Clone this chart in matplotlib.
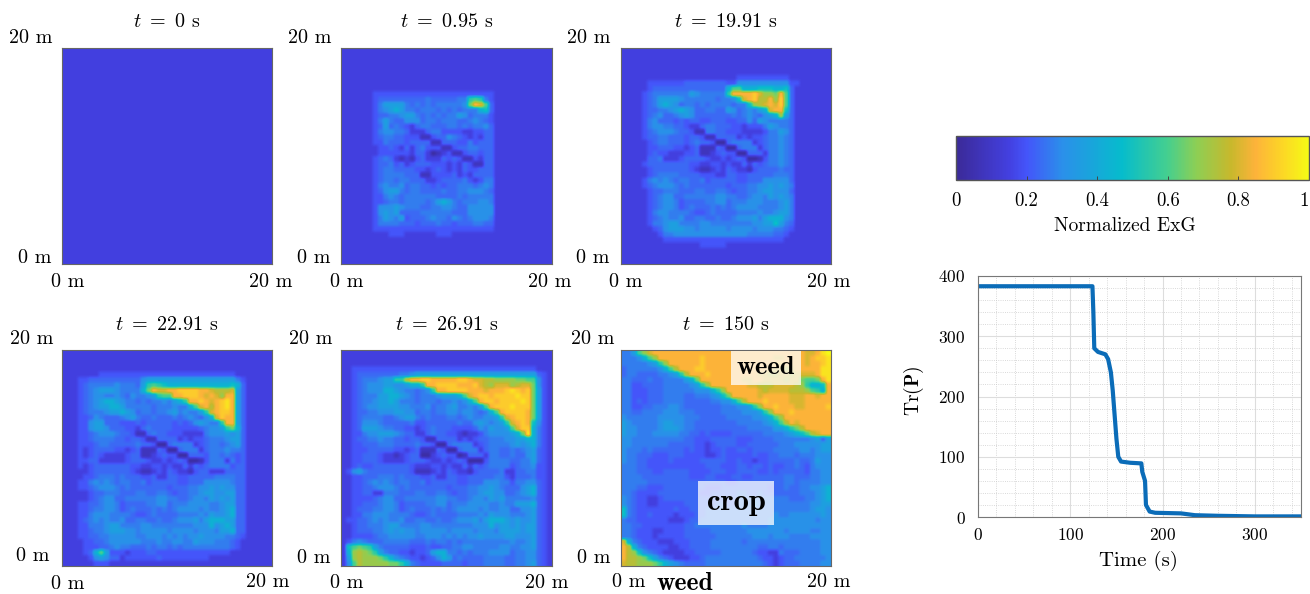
#!/usr/bin/env python3
# -*- coding: utf-8 -*-
"""ExG map snapshots, colorbar and Tr(P) over time"""

import numpy as np
import matplotlib
matplotlib.use('Agg')
import matplotlib.pyplot as plt
from matplotlib.colors import LinearSegmentedColormap
from matplotlib.ticker import MultipleLocator

plt.rcParams['font.family'] = 'cmr10'
plt.rcParams['mathtext.fontset'] = 'cm'
plt.rcParams['axes.formatter.use_mathtext'] = True

W, H = 1310, 594

# values, one char per cell, LEVELS gives the value of a char
LEVELS = {'1': 0.03, '2': 0.08, '3': 0.15, '4': 0.20, '5': 0.235, '6': 0.27, '7': 0.31,
          '8': 0.36, '9': 0.43, 'a': 0.49, 'b': 0.55, 'c': 0.60, 'd': 0.65, 'e': 0.70,
          'f': 0.75, 'g': 0.80, 'h': 0.85, 'i': 0.90, 'j': 0.95, 'k': 1.0}
BLANK = '3333333333 3333333333 3333333333 3333333333'

MAP_T0 = [BLANK] * 40

MAP_T095 = [BLANK] * 8 + [
    '3333334444 4444444444 4444444443 3333333333',
    '3333334555 5555556555 5566bcb643 3333333333',
    '3333334688 8865656566 6667dhgc53 3333333333',
    '3333334678 9866566656 5656669a53 3333333333',
    '3333334556 6788656565 6687566643 3333333333',
    '3333334686 5577756656 6655676543 3333333333',
    '3333334585 6543566555 6656566753 3333333333',
    '3333334677 6653335664 4443344553 3333333333',
    '3333334566 5544422455 7654343553 3333333333',
    '3333334465 5545555225 5544645553 3333333333',
    '3333333445 4353564442 2455665553 3333333333',
    '3333333444 4443553123 4224554553 3333333333',
    '3333334565 3232453335 4542243553 3333333333',
    '3333334556 4534555444 3435422553 3333333333',
    '3333334566 5555443454 3435445553 3333333333',
    '3333334566 6655522444 4534355553 3333333333',
    '3333334566 5665553345 5556434663 3333333333',
    '3333334676 6756655454 5566656763 3333333333',
    '3333334578 8656655556 5566777653 3333333333',
    '3333334467 6566666655 5565666663 3333333333',
    '3333334456 6566665689 8656667763 3333333333',
    '3333334777 8766655667 7655777773 3333333333',
    '3333334787 8555566666 6555777773 3333333333',
    '3333334687 6845556766 5765677763 3333333333',
    '3333334666 6555455565 5455566553 3333333333',
    '3333334444 4444444444 4444444443 3333333333',
    '3333333334 4433333344 4333333333 3333333333',
] + [BLANK] * 5

MAP_T1991 = [BLANK] * 5 + [
    '3333333333 3333333333 3344444444 4433333333',
    '3333344444 4455555555 4477777777 7744333333',
    '3333345555 5555555555 9cc999aaa9 9a53333333',
    '3333456666 6668766666 bhhhhigeed hc53333333',
    '3333456888 8766666656 67aghiffhe ic53333333',
    '3333456898 7566565666 6566aefghg ic53333333',
    '3333455667 8987556655 87567689gh ha53333333',
    '3333456755 6787555555 5656765789 e853333333',
    '3333467555 4545544555 4455758766 6653333333',
    '3333467766 5543356655 5443444687 6653333333',
    '3333456777 6554226655 4443333466 8753333333',
    '3333455665 5545542255 5534344566 7653333333',
    '3333345665 5545655411 5666634566 7653333333',
    '3333344555 4434522254 1156663566 7653333333',
    '3333345443 3344522345 4411555366 7653333333',
    '3333355633 3455554334 3454112466 7653333333',
    '3333455555 5554433443 4335354566 7653333333',
    '3333345555 5554322343 5433245555 6553333333',
    '3333345666 6555544433 5544555556 6653333333',
    '3333467676 5665564555 5544555777 7753333333',
    '3333456777 6565555555 4555667787 8763333333',
    '3333345566 6555665566 5455667887 7753333333',
    '3333345677 5566666677 6655677687 8763333333',
    '3333345677 6455556677 5666777666 7863333333',
    '3333345677 6456555656 5677776666 7863333333',
    '3333346776 6665445655 5566667667 8863333333',
    '3333345676 6755665565 5677786899 9763333333',
    '3333346678 8666677666 666667788a 8653333333',
    '3333334578 8877677777 6777767776 6543333333',
    '3333333466 7777777777 7777666665 5433333333',
    '3333333344 4444444444 4444444444 4333333333',
    '3333333333 3333344444 3333333333 3333333333',
] + [BLANK] * 3

MAP_T2291 = [BLANK] * 4 + [
    '3333333444 4444444444 4444444444 4443333333',
    '3334455555 5555578888 8888888888 8886433333',
    '3334566666 766658bcba 9999999999 99a9533333',
    '3334567888 766669dhgg hhiiiihhgf ffg8533333',
    '3334567766 76576678bc chhiiihghg ehh8533333',
    '3334567899 8766565667 689bhhihgh ijh8533333',
    '3334567889 9866666566 67669cghfh ijh8533333',
    '3334566678 8987566566 7867668bgh iih8533333',
    '3334457655 5678655655 565676579g ihh8533333',
    '3334478855 5444545555 5454578766 bhh8533333',
    '3334478875 5544356555 5444445677 8bd9533333',
    '3334456777 6554225655 4443333677 7878533333',
    '3334456666 5545542255 5534344566 6788533333',
    '3334445665 5555655411 5666634566 5678533333',
    '3334345555 4434522254 1156663566 6766533333',
    '3334345433 3345522345 4411555466 5654533333',
    '3334455333 3345554334 3454112466 6364533333',
    '3334345555 5554433443 4335354566 6645533333',
    '3333345555 5554322343 5433245533 3555533333',
    '3333445666 5655544533 5544555556 6665533333',
    '3334467676 5665564555 5544555777 7765533333',
    '3334456777 6565555555 4555667787 8775533333',
    '3333345566 6555665566 5455667887 7885533333',
    '3333345677 5566666677 6655677687 8785533333',
    '3334455677 6455556677 5666777766 7885533333',
    '3334456677 6456555656 5677776766 7895533333',
    '3334467776 6665445655 5566667687 7895533333',
    '3334567676 6755665565 5677786899 9885533333',
    '3334466678 8666677666 6666677797 8985533333',
    '3334456678 8877677777 6777767776 8895533333',
    '3334455667 7777667776 7676778777 7665433333',
    '3333445567 7777766676 6776687776 6654333333',
    '3333444556 7665556566 5656666666 6654333333',
    '3333459c84 4434445544 4444444444 4433333333',
    '3333347875 5344444454 4444444433 3333333333',
    '3333334443 3333333333 3333333333 3333333333',
]

MAP_T2691 = [BLANK] * 3 + [
    '3344444444 4444444444 4444444444 4444444333',
    '3345555555 5667888888 8888888888 8888888543',
    '3345666788 bbfhhiihhh hhiihggffe eeeddcc743',
    '3345677788 77899bhhii iihhhigfeg ggefggd743',
    '3345677799 8766567bhh iiiihhhghh hijihid843',
    '3345666889 9876566678 889cghiihi iiijiid843',
    '3345667889 8666566656 67679chiih iiiijid843',
    '3345677888 8776667566 7866768chi iijiiid843',
    '3345566777 8877566566 776776569c hiiiihd843',
    '3345666655 6788656555 6656766778 bghiihd843',
    '3345777655 5556445555 5565578767 8bghiha743',
    '3345888766 5544345655 5444457687 78cgii9643',
    '3344677888 7655335655 4432334677 7789dj9643',
    '3345566766 5545542255 5534345566 6778899643',
    '3344555666 5555655411 5666634566 6678789643',
    '3344455555 4434522254 1156663566 5565678543',
    '3344555433 2345511345 4412555366 5565578543',
    '3344555433 3345554334 3454111466 6655668543',
    '3345445555 5554333443 4335354566 6645667443',
    '3478655555 5554222343 5433245555 6335566443',
    '3344555666 5655544533 5544555556 6435556443',
    '3344567676 5665564555 5544555777 6646677543',
    '3344556777 6565555555 4555667787 6555789543',
    '3344553366 6555665566 5455667887 7556789543',
    '3344445677 5566666677 6655677687 8666667543',
    '3344555677 6455556677 5666777766 7668889543',
    '3345556677 6456555656 5677776766 7755778543',
    '3344667776 6665445655 5566667687 7766678543',
    '3445567676 6755665565 5677786899 9878778543',
    '3345566678 8666677666 6666677797 8878788543',
    '3345556678 7877677777 6777767776 8888788543',
    '3344445667 7777667776 7676778777 7887778543',
    '3467655566 6665556566 5656666666 6676678543',
    '3acdcb8655 5554445445 5667766666 7766778543',
    '39efedb865 5443445899 6656566677 7756677543',
    '38efeeedb9 7654434579 8565555666 6556677543',
    '37cfeeeeed db96544445 5554555666 6556678543',
]

MAP_T150 = [
    '668ceghhhh hhhhhhhhhh hhhhhhhhhh hhhhhgghjk',
    '66679cehhh hhhhhihhhh hhhhhhhhhg ghhhhghiij',
    '6666678beh hhhhhihhhh hhhhhhhhhi ihhhhghhij',
    '566666679c fhhhiihhhh hhhhhhhhgg gfghhhhhjj',
    '5665555667 8bfhhhihhh hhhhhhggff ggfgggghjj',
    '6655565566 6689dhhhhh hhhgghhggg gfggdccdhj',
    '6644555566 66678behhh hhhhggfffg gggfeb99ah',
    '6644455566 66667779be hhhhhhgfgg ggfffecb9h',
    '6644455566 665566678a dhhhhhghhh hhggghhghh',
    '6645455566 6655555667 79cfhhhihh hhggghhhhh',
    '6644556667 7655555556 66778behhi hhhgghhhhi',
    '6655666677 7666555556 6667778beh hhihhhhhhh',
    '7666666777 7766655555 666667789c ehhhhhhhhh',
    '8766666788 7766555555 5566666789 cfhghhhhhh',
    '8776666788 8766555555 5555666668 89bdfhhhhh',
    '8776667777 7665545444 4555555666 6789acfghh',
    '7766666666 6655444555 5544455556 6666667858',
    '7766666665 5555443455 5544555555 6667777788',
    '7666565555 5545443445 4455455556 6666776788',
    '7665554445 5544443345 4444454455 6665666777',
    '7665544445 4444455555 4454434455 5556556877',
    '6665544444 4444445554 4455455454 4556546777',
    '6665554455 5554444555 4455554454 5555546677',
    '6666555555 5554445544 4554455555 5665556677',
    '6666655555 5555555555 4455555555 5665666677',
    '6665544455 5555554445 5555555545 5655667789',
    '6654444555 5555544555 5566556555 5555666789',
    '7654433455 5555555555 5566666666 6655566789',
    '7654433444 4455555566 5566676666 6666667788',
    'a654444444 5445556666 6666666666 6666667887',
    'a654454444 3444556666 6666666667 6677777787',
    '6554444443 3345566666 6666666677 7777777677',
    '6655444444 4455666666 6667666677 7777777777',
    '6654443344 4455555666 6666777777 7677776677',
    '6654443444 4455555566 6666677767 7766667777',
    'g965444333 4445555666 6665666666 6666666677',
    'hf96544443 3445555666 6666665566 5666666677',
    'hfea765433 3344555556 6666654433 6555666677',
    'hffeda8654 3334456666 6666665443 4556666667',
    'gffeeedb98 7655556666 6666666543 4555666677',
]

TITLES = [r'$t\ =\ 0$ s', r'$t\ =\ 0.95$ s', r'$t\ =\ 19.91$ s',
          r'$t\ =\ 22.91$ s', r'$t\ =\ 26.91$ s', r'$t\ =\ 150$ s']
MAPS = [MAP_T0, MAP_T095, MAP_T1991, MAP_T2291, MAP_T2691, MAP_T150]

CBAR_TICKS = [0, 0.2, 0.4, 0.6, 0.8, 1]

TIME_S = [0, 124, 125, 126, 130, 138, 141, 144, 146, 148, 150, 152, 155, 165, 177,
          178, 181, 182, 186, 192, 220, 235, 260, 300, 350]
TRACE_P = [383, 383, 340, 280, 274, 270, 262, 240, 210, 170, 130, 100, 92, 90, 89,
           75, 60, 20, 9, 7, 6, 3, 2, 1, 1]

cmap = LinearSegmentedColormap.from_list('exg', [
    (0.0, '#3b2a98'), (0.15, '#4340e0'), (0.2, '#4455fa'), (0.3, '#2b8fea'),
    (0.47, '#06bccc'), (0.6, '#45cf8f'), (0.68, '#8ccf55'), (0.78, '#c8b82c'),
    (0.85, '#fdb33a'), (0.93, '#fcd825'), (1.0, '#f5fb15')])


def decode(rows):
    cells = [[LEVELS[c] for c in r.replace(' ', '')] for r in rows]
    return np.array(cells)


def px_axes(fig, x0, y0, x1, y1):
    return fig.add_axes([x0 / W, 1 - y1 / H, (x1 - x0) / W, (y1 - y0) / H])


def px_text(fig, x, y, s, **kw):
    kw.setdefault('ha', 'center')
    kw.setdefault('va', 'center')
    kw.setdefault('fontsize', 14.5)
    fig.text(x / W, 1 - y / H, s, **kw)


fig = plt.figure(figsize=(W / 100, H / 100), dpi=100)

# panel frames and label centres in pixels
frames = [(62, 48, 272, 264), (341, 48, 552, 264), (621, 48, 831, 264),
          (62, 350, 272, 566), (341, 350, 552, 566), (621, 350, 831, 566)]
title_y = [22, 22, 22, 325, 325, 325]
label_pos = [(31, 38, 35, 258, 68, 282, 271, 282),
             (310, 38, 314, 258, 347, 282, 550, 282),
             (589, 38, 593, 258, 626, 282, 829, 282),
             (32, 339, 33, 556, 68, 584, 268, 582),
             (311, 339, 314, 558, 347, 583, 547, 583),
             (593, 339, 594, 558, 629, 582, 829, 582)]

im = None
for i, rows in enumerate(MAPS):
    x0, y0, x1, y1 = frames[i]
    ax = px_axes(fig, x0, y0, x1, y1)
    im = ax.imshow(decode(rows), cmap=cmap, vmin=0, vmax=1, aspect='auto', interpolation='hermite')
    ax.set_xticks([])
    ax.set_yticks([])
    for s in ax.spines.values():
        s.set_color('#666666')
        s.set_linewidth(0.8)
    px_text(fig, (x0 + x1) / 2, title_y[i], TITLES[i], fontsize=14.5)
    lx, ly, lx0, ly0, bx0, by0, bx1, by1 = label_pos[i]
    px_text(fig, lx, ly, '20 m')
    px_text(fig, lx0, ly0, '0 m')
    px_text(fig, bx0, by0, '0 m')
    px_text(fig, bx1, by1, '20 m')

# weed / crop annotations
px_text(fig, 766, 368, 'weed', family='cmb10', fontsize=19,
        bbox=dict(facecolor='white', alpha=0.75, edgecolor='none', pad=4))
px_text(fig, 736, 503, 'crop', family='cmb10', fontsize=22,
        bbox=dict(facecolor='white', alpha=0.75, edgecolor='none', pad=6))
px_text(fig, 685, 584, 'weed', family='cmb10', fontsize=18.5)

# colorbar
cax = px_axes(fig, 956, 136, 1309, 180)
cb = fig.colorbar(im, cax=cax, orientation='horizontal', ticks=CBAR_TICKS)
cb.ax.set_xticklabels(['0', '0.2', '0.4', '0.6', '0.8', '1'])
cb.ax.tick_params(direction='in', length=3, width=0.7, labelsize=13.5, pad=9, color='#444444')
cb.ax.get_xticklabels()[-1].set_ha('right')
cb.outline.set_edgecolor('#555555')
cb.outline.set_linewidth(1.0)
px_text(fig, 1125, 226, 'Normalized ExG', fontsize=14)

# trace of P
ax = px_axes(fig, 978, 276, 1301, 517)
ax.plot(TIME_S, TRACE_P, color='#0b6cb8', linewidth=3)
ax.set_xlim(0, 350)
ax.set_ylim(0, 400)
ax.set_xticks([0, 100, 200, 300])
ax.set_yticks([0, 100, 200, 300, 400])
ax.xaxis.set_minor_locator(MultipleLocator(20))
ax.yaxis.set_minor_locator(MultipleLocator(20))
ax.grid(True, which='major', color='#dddddd', linewidth=0.8)
ax.grid(True, which='minor', color='#cccccc', linewidth=0.6, linestyle=':')
ax.set_axisbelow(True)
ax.tick_params(which='both', length=0)
ax.tick_params(axis='x', labelsize=12.5, pad=7)
ax.tick_params(axis='y', labelsize=12.5, pad=9)
for s in ax.spines.values():
    s.set_color('#777777')
    s.set_linewidth(0.8)
px_text(fig, 1138, 561, 'Time (s)', fontsize=15)
px_text(fig, 914, 391, r'$\mathrm{Tr}(\mathbf{P})$', fontsize=14, rotation=90)

fig.savefig('out.png', dpi=100)
print('saved out.png')
